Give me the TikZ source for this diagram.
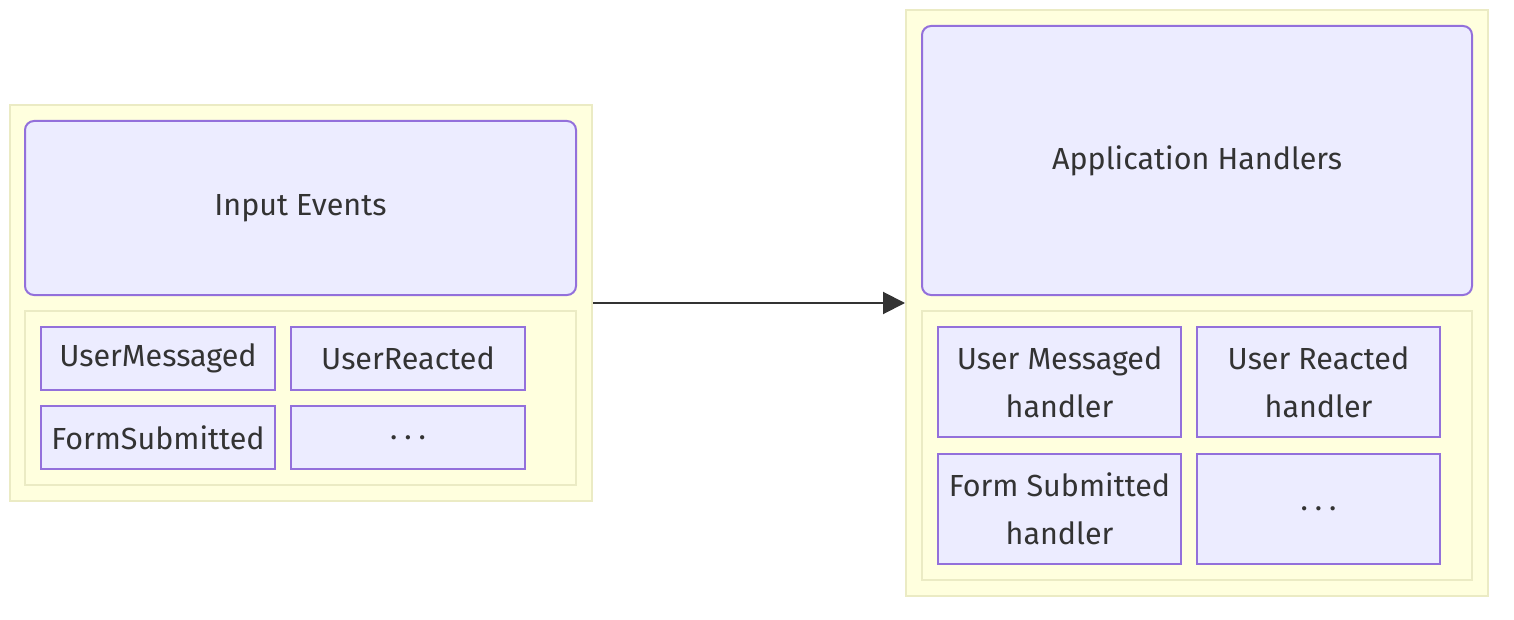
\documentclass[tikz,border=0pt]{standalone}
\usepackage{fontspec}
\setmainfont{Fira Sans}
\usetikzlibrary{arrows.meta}
\definecolor{boxfill}{HTML}{ECECFF}
\definecolor{boxline}{HTML}{9370DB}
\definecolor{clusterfill}{HTML}{FFFFDE}
\definecolor{clusterline}{HTML}{EBEBC4}
\definecolor{txt}{HTML}{333333}
\newcommand{\moredots}{.\kern7pt.\kern7pt.}

\begin{document}
\begin{tikzpicture}[x=1pt,y=-1pt,
    every node/.append style={text=txt,font=\fontsize{30.5}{48}\selectfont,inner sep=0pt},
    cluster/.style={draw=clusterline,fill=clusterfill,line width=2pt},
    titlebox/.style={draw=boxline,fill=boxfill,line width=2pt,rounded corners=9pt},
    itembox/.style={draw=boxline,fill=boxfill,line width=2pt,align=center}
    ]
    \useasboundingbox (0,0) rectangle (1514,620);

    % Input side
    \node[cluster,minimum width=582pt,minimum height=395pt] (inputs) at (301,303) {};
    \node[titlebox,minimum width=551pt,minimum height=174pt] (inputtitle) at (300.5,208) {Input Events};
    \node[cluster,minimum width=551pt,minimum height=174pt] (inputgroup) at (300.5,398) {};
    \node[itembox,minimum width=234pt,minimum height=63pt] (usermsg) at (158,358.5) {UserMessaged};
    \node[itembox,minimum width=234pt,minimum height=63pt] (userreact) at (408,358.5) {UserReacted};
    \node[itembox,minimum width=234pt,minimum height=63pt] (formsub) at (158,437.5) {FormSubmitted};
    \node[itembox,minimum width=234pt,minimum height=63pt] (moreev) at (408,437.5) {\moredots};

    % Handler side
    \node[cluster,minimum width=582pt,minimum height=586pt] (handlers) at (1197,303) {};
    \node[titlebox,minimum width=550pt,minimum height=269pt] (handlertitle) at (1197,160.5) {Application Handlers};
    \node[cluster,minimum width=550pt,minimum height=269pt] (handlergroup) at (1197,445.5) {};
    \node[itembox,minimum width=243pt,minimum height=110pt] (msghandler) at (1059.5,382) {User Messaged\\handler};
    \node[itembox,minimum width=243pt,minimum height=110pt] (reacthandler) at (1318.5,382) {User Reacted\\handler};
    \node[itembox,minimum width=243pt,minimum height=110pt] (formhandler) at (1059.5,508.5) {Form Submitted\\handler};
    \node[itembox,minimum width=243pt,minimum height=110pt] (morehandler) at (1318.5,508.5) {\moredots};

    \draw[txt,line width=2pt,-{Triangle[length=22pt,width=22pt]}] (inputs.east) -- (handlers.west);
\end{tikzpicture}
\end{document}
